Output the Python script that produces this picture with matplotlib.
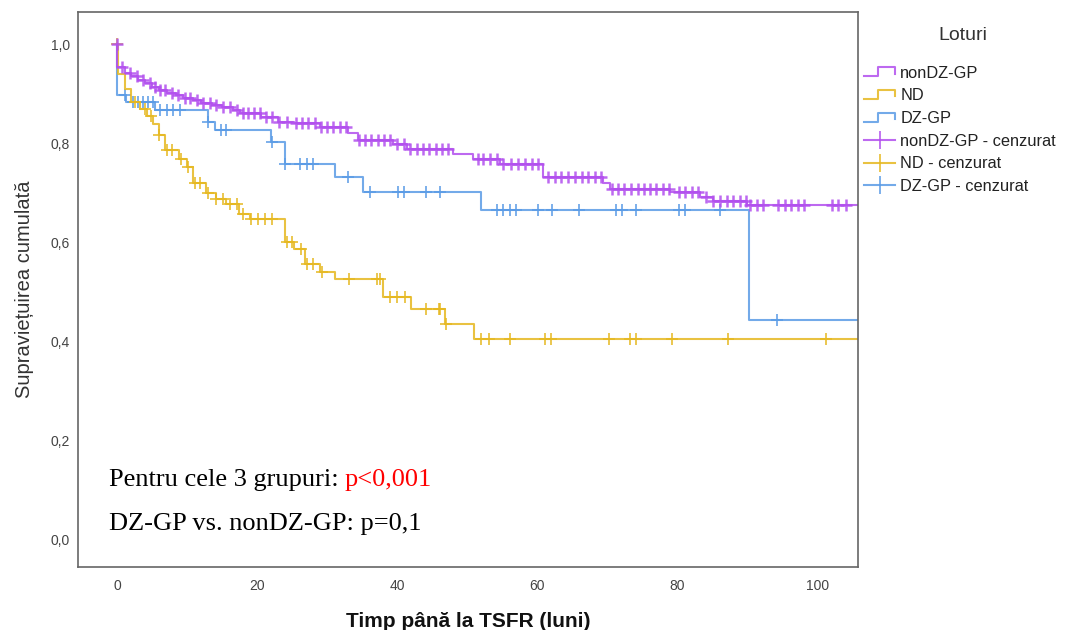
import numpy as np
import matplotlib
matplotlib.use('Agg')
import matplotlib.pyplot as plt
from matplotlib.lines import Line2D

plt.rcParams['font.family'] = ['Liberation Sans', 'DejaVu Sans']

# Kaplan-Meier curves (TSFR) for the three groups.
# event times (months) and cumulative survival right after each step
nondz_t = [0, 1.1, 2.0, 3.0, 4.0, 5.0, 6.0, 7.2, 8.5, 9.5, 10.8, 12.0, 13.5, 15.0,
           16.5, 17.5, 20.5, 23.0, 25.3, 29.0, 33.0, 34.4, 39.4, 41.4, 48.0, 50.8,
           54.6, 60.8, 69.3, 70.3, 78.9, 83.2, 85.0, 89.9]
nondz_s = [0.953, 0.942, 0.935, 0.928, 0.921, 0.914, 0.908, 0.902, 0.897, 0.892,
           0.887, 0.882, 0.877, 0.872, 0.867, 0.861, 0.852, 0.843, 0.840, 0.833,
           0.821, 0.807, 0.799, 0.789, 0.778, 0.769, 0.759, 0.732, 0.719, 0.708,
           0.702, 0.692, 0.683, 0.675]
nondz_cens = [0.0, 0.7, 1.9, 2.8, 3.7, 4.7, 5.4, 6.1, 6.8, 7.8, 8.7, 9.7, 10.4, 11.4,
              12.3, 13.3, 14.2, 15.2, 16.1, 17.1, 18.0, 18.7, 19.5, 20.4, 21.3, 22.2,
              23.2, 24.2, 25.5, 26.4, 27.3, 28.2, 29.1, 30.0, 30.9, 31.8, 32.7, 34.5,
              35.4, 36.3, 37.2, 38.1, 39.0, 40.0, 40.9, 41.8, 42.8, 43.7, 44.6, 45.5,
              46.4, 47.3, 51.5, 52.3, 53.2, 54.2, 55.1, 56.3, 57.2, 58.2, 59.2, 60.1,
              61.5, 62.5, 63.4, 64.4, 65.3, 66.3, 67.2, 68.2, 69.1, 70.6, 71.5, 72.4,
              73.3, 74.3, 75.2, 76.1, 77.0, 77.9, 78.8, 80.2, 81.1, 82.1, 82.9, 84.1,
              85.1, 86.0, 87.0, 87.9, 88.9, 89.8, 90.3, 91.3, 92.2, 94.3, 95.3, 96.2,
              97.2, 98.1, 102.0, 102.9, 104.1]

nd_t = [0, 0.1, 1.1, 2.0, 3.3, 4.3, 5.2, 6.0, 6.8, 8.9, 10.0, 10.8, 12.7, 14.2, 15.6,
        17.4, 19.0, 24.0, 25.3, 26.8, 29.0, 31.1, 38.0, 42.0, 46.8, 51.0]
nd_s = [1.0, 0.94, 0.91, 0.883, 0.868, 0.855, 0.838, 0.816, 0.786, 0.769, 0.752,
        0.719, 0.699, 0.688, 0.678, 0.658, 0.647, 0.600, 0.587, 0.557, 0.540, 0.526,
        0.489, 0.466, 0.436, 0.405]
nd_cens = [0.0, 2.6, 4.0, 4.9, 6.0, 7.1, 7.9, 9.2, 10.2, 11.1, 11.8, 13.0, 14.2, 15.1,
           16.1, 17.1, 18.0, 19.2, 20.1, 21.1, 22.1, 24.2, 25.0, 26.3, 27.1, 28.0,
           29.2, 33.1, 37.1, 37.6, 39.0, 40.0, 41.1, 44.1, 45.9, 46.1, 47.0, 52.0,
           53.1, 56.1, 61.1, 62.0, 70.2, 73.2, 74.1, 79.2, 87.2, 101.2]

dz_t = [0, 0, 1.3, 5.4, 13.0, 14.0, 22.0, 24.0, 31.1, 35.1, 52.0, 90.2]
dz_s = [1.0, 0.897, 0.883, 0.867, 0.843, 0.826, 0.803, 0.759, 0.732, 0.702, 0.665, 0.443]
dz_cens = [1.1, 2.3, 3.0, 3.7, 4.4, 5.1, 6.1, 7.1, 8.0, 9.0, 13.0, 14.9, 15.6, 22.1,
           24.0, 26.1, 27.1, 28.0, 33.0, 36.1, 40.1, 41.0, 44.1, 46.1, 54.2, 55.1,
           56.1, 57.0, 60.1, 62.1, 66.0, 71.2, 72.1, 74.1, 80.2, 81.0, 86.1, 94.2]

follow_up_end = 106
groups = ['nonDZ-GP', 'ND', 'DZ-GP']
colors = {'nonDZ-GP': '#b24fee', 'ND': '#e6b820', 'DZ-GP': '#5a9be6'}
mark_width = {'nonDZ-GP': 1.8, 'ND': 1.3, 'DZ-GP': 1.3}

fig = plt.figure(figsize=(10.68, 6.30), dpi=100)
ax = fig.add_axes([0.073, 0.1, 0.730, 0.881])

curves = {'nonDZ-GP': (nondz_t, nondz_s, nondz_cens),
          'ND': (nd_t, nd_s, nd_cens),
          'DZ-GP': (dz_t, dz_s, dz_cens)}

for g in ['DZ-GP', 'ND', 'nonDZ-GP']:
    t, s, cens = curves[g]
    t = np.asarray(t, float)
    s = np.asarray(s, float)
    cens = np.asarray(cens, float)
    if t[0] > 0 or s[0] < 1.0:
        t = np.r_[0.0, t]
        s = np.r_[1.0, s]
    tt = np.r_[t, follow_up_end]
    ss = np.r_[s, s[-1]]
    ax.plot(tt, ss, drawstyle='steps-post', color=colors[g], lw=1.5, alpha=0.85)
    idx = np.searchsorted(t, cens, side='right') - 1
    cy = np.where(cens == 0, 1.0, s[idx])
    ax.plot(cens, cy, ls='none', marker='+', ms=9, mew=mark_width[g],
            color=colors[g], alpha=0.85)

ax.set_xlim(-5.56, 105.7)
ax.set_ylim(-0.0545, 1.0646)
ax.set_xticks([0, 20, 40, 60, 80, 100])
ax.set_yticks([0.0, 0.2, 0.4, 0.6, 0.8, 1.0])
ax.set_yticklabels(['0,0', '0,2', '0,4', '0,6', '0,8', '1,0'])
ax.tick_params(length=0, labelsize=10, colors='#444444')
ax.tick_params(axis='x', pad=9)
ax.tick_params(axis='y', pad=6)
for sp in ax.spines.values():
    sp.set_color('#666666')
    sp.set_linewidth(1.2)

ax.set_ylabel('Supraviețuirea cumulată', fontsize=14.5, color='#333333',
              labelpad=12)
ax.set_xlabel('Timp până la TSFR (luni)', fontsize=15, fontweight='bold',
              color='#111111', labelpad=13)

t1 = ax.text(0.04, 0.146, 'Pentru cele 3 grupuri:', transform=ax.transAxes,
             fontsize=19, family='Liberation Serif', color='black')
ax.annotate('p<0,001', xy=(1, 0), xycoords=t1, xytext=(4, 0),
            textcoords='offset points', ha='left', va='bottom',
            fontsize=19, family='Liberation Serif', color='red')
ax.text(0.04, 0.067, 'DZ-GP vs. nonDZ-GP: p=0,1', transform=ax.transAxes,
        fontsize=19, family='Liberation Serif', color='black')


class StepHandler:
    def legend_artist(self, legend, orig_handle, fontsize, handlebox):
        x0, y0 = handlebox.xdescent, handlebox.ydescent
        w, h = handlebox.width, handlebox.height
        xs = [x0, x0 + w * 0.45, x0 + w * 0.45, x0 + w, x0 + w]
        ys = [y0 + h * 0.1, y0 + h * 0.1, y0 + h * 0.9, y0 + h * 0.9, y0 + h * 0.35]
        ln = Line2D(xs, ys, color=orig_handle.get_color(), lw=1.5, alpha=0.85,
                    transform=handlebox.get_transform())
        handlebox.add_artist(ln)
        return ln


handles, labels, hmap = [], [], {}
for g in groups:
    h = Line2D([], [], color=colors[g])
    handles.append(h)
    labels.append(g)
    hmap[h] = StepHandler()
for g in groups:
    handles.append(Line2D([], [], color=colors[g], lw=1.5, marker='|', ms=13,
                          mew=1.3, alpha=0.85))
    labels.append(g + ' - cenzurat')

fig.text(0.902, 1 - 35 / 630, 'Loturi', ha='center', va='center',
         fontsize=14, color='#333333')
leg = fig.legend(handles, labels, handler_map=hmap, loc='upper left',
                 bbox_to_anchor=(0.803, 1 - 59 / 630), frameon=False,
                 fontsize=11.8, handlelength=1.9,
                 handletextpad=0.3, labelspacing=0.47, borderaxespad=0)
for txt in leg.get_texts():
    txt.set_color('#222222')

fig.savefig('out.png', dpi=100)
